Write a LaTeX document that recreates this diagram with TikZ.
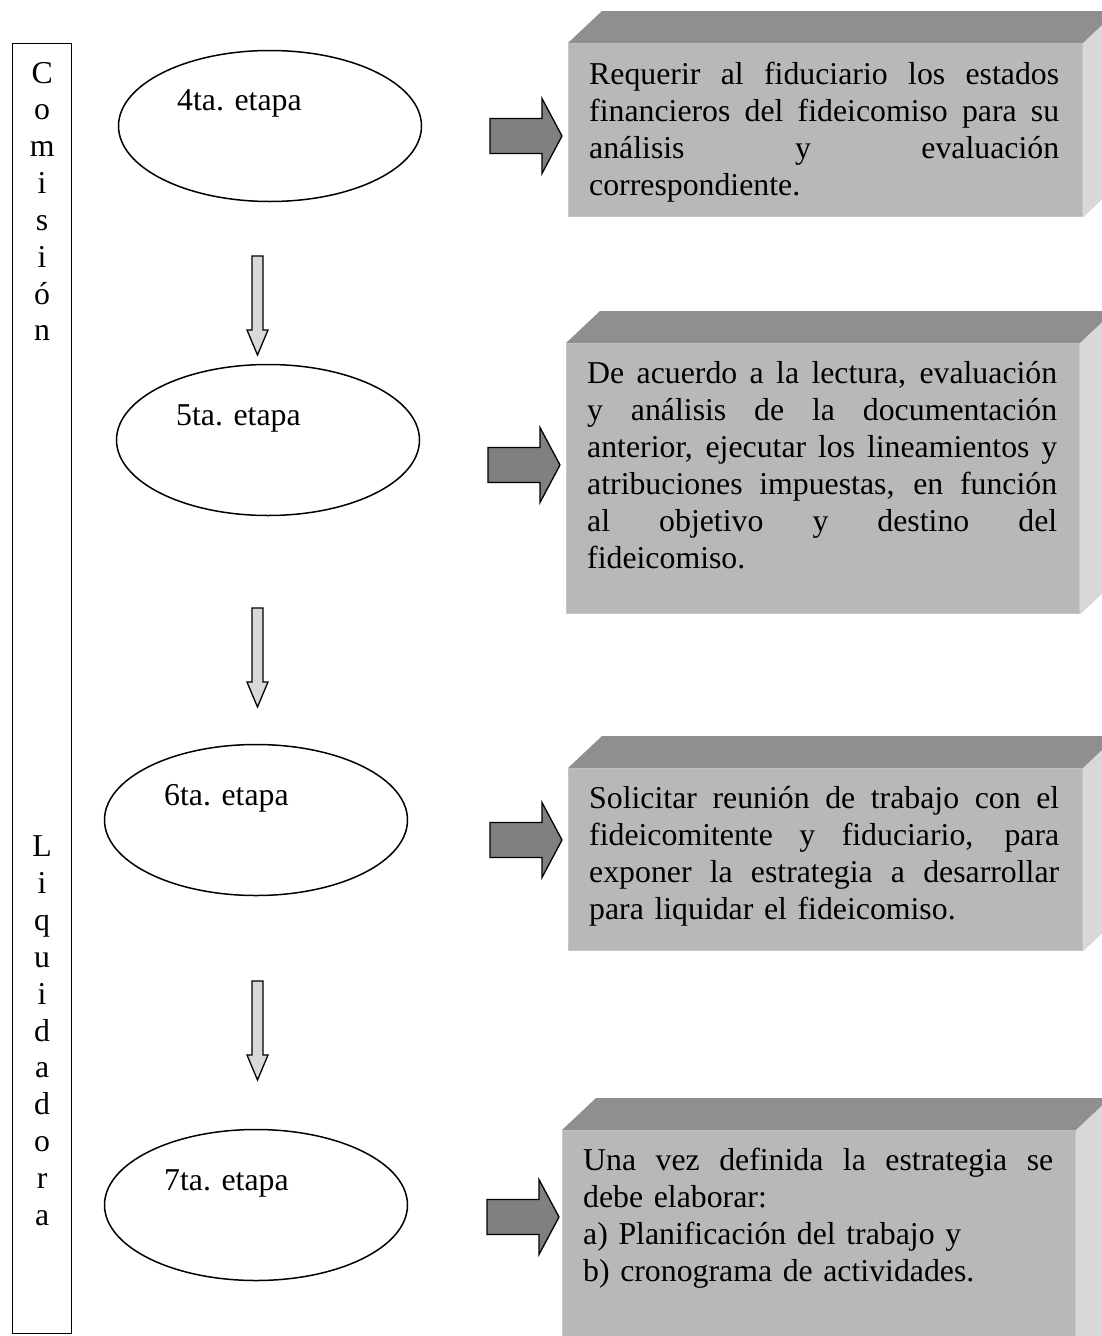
\documentclass[tikz,border=0pt]{standalone}
\usepackage{fontspec}
\setmainfont{Liberation Serif}
\usepackage{xcolor}
\usepackage{tikz}
\usetikzlibrary{shapes.geometric}
\usetikzlibrary{calc}

\definecolor{topgrey}{HTML}{8F8F8F}
\definecolor{frontgrey}{HTML}{B8B8B8}
\definecolor{sidegrey}{HTML}{D8D8D8}
\definecolor{edgegrey}{HTML}{C6C6C6}
\definecolor{darkarrow}{HTML}{808080}
\definecolor{lightarrow}{HTML}{D9D9D9}
\newcommand{\jl}[1]{\makebox[470pt][s]{\spaceskip=7.9pt plus 40pt minus 2pt\relax #1}}

\begin{document}
\begin{tikzpicture}[x=1pt,y=-1pt,
    font=\fontsize{31.8pt}{37pt}\selectfont,
    etapa/.style={draw,ellipse,line width=1.5pt,minimum width=303pt,minimum height=151pt,inner sep=0pt},
    front/.style={fill=frontgrey,draw=edgegrey,line width=1.2pt,anchor=north west,inner sep=0pt},
    boxtext/.style={anchor=base west,text width=470pt,align=left,inner sep=0pt},
    darr/.pic={\draw[line width=1.3pt,fill=lightarrow] (-5.5,0) -- (5.5,0) -- (5.5,74) -- (10.5,74) -- (0,99) -- (-10.5,74) -- (-5.5,74) -- cycle;},
    rarr/.pic={\draw[line width=1.3pt,fill=darkarrow] (0,0) -- (-20,-37.5) -- (-20,-17.5) -- (-72,-17.5) -- (-72,17.5) -- (-20,17.5) -- (-20,37.5) -- cycle;}]
    \useasboundingbox (0,0) rectangle (1102,1336);

    % columna izquierda
    \node[draw,line width=1.3pt,minimum width=59pt,minimum height=1290pt,anchor=north west,inner sep=0pt] (col) at (12,43) {};
    \node[anchor=base,text width=40pt,align=center,inner sep=0pt,font=\fontsize{31.8pt}{36.85pt}\selectfont] (coltext) at ($(col.north)+(0,40)$)
        {C\\o\\m\\i\\s\\i\\ó\\n\\[479pt]L\\i\\q\\u\\i\\d\\a\\d\\o\\r\\a};

    % etapas
    \node[etapa] (e4) at (270,126) {};
    \node[anchor=base west,inner sep=0pt] (t4) at ($(e4.center)+(-93,-16)$) {4ta. etapa};
    \node[etapa] (e5) at (268,440) {};
    \node[anchor=base west,inner sep=0pt] (t5) at ($(e5.center)+(-92,-15)$) {5ta. etapa};
    \node[etapa] (e6) at (256,820) {};
    \node[anchor=base west,inner sep=0pt] (t6) at ($(e6.center)+(-92,-15)$) {6ta. etapa};
    \node[etapa] (e7) at (256,1205) {};
    \node[anchor=base west,inner sep=0pt] (t7) at ($(e7.center)+(-92,-15)$) {7ta. etapa};

    \pic at (257.5,256) {darr};
    \pic at (257.5,608) {darr};
    \pic at (257.5,981) {darr};

    % cajas
    \node[front,minimum width=514pt,minimum height=173pt] (b1) at (568,43) {};
    \node[front,minimum width=513pt,minimum height=270pt] (b2) at (566,343) {};
    \node[front,minimum width=514pt,minimum height=182pt] (b3) at (568,768) {};
    \node[front,minimum width=513pt,minimum height=230pt] (b4) at (562,1130) {};
    \foreach \b in {b1,b2,b3,b4}{
        \fill[topgrey] (\b.north west) -- ++(34,-32) -- ($(\b.north east)+(34,-32)$) -- (\b.north east) -- cycle;
        \fill[sidegrey] (\b.north east) -- ++(34,-32) -- ($(\b.south east)+(34,-32)$) -- (\b.south east) -- cycle;
    }

    \node[boxtext] (x1) at ($(b1.north west)+(21,41)$)
        {\jl{Requerir al fiduciario los estados}\\ \jl{financieros del fideicomiso para su}\\ \jl{análisis y evaluación}\\ correspondiente.};
    \node[boxtext] (x2) at ($(b2.north west)+(21,40)$)
        {\jl{De acuerdo a la lectura, evaluación}\\ \jl{y análisis de la documentación}\\ \jl{anterior, ejecutar los lineamientos y}\\ \jl{atribuciones impuestas, en función}\\ \jl{al objetivo y destino del}\\ fideicomiso.};
    \node[boxtext] (x3) at ($(b3.north west)+(21,40)$)
        {\jl{Solicitar reunión de trabajo con el}\\ \jl{fideicomitente y fiduciario, para}\\ \jl{exponer la estrategia a desarrollar}\\ para liquidar el fideicomiso.};
    \node[boxtext] (x4) at ($(b4.north west)+(21,40)$)
        {\jl{Una vez definida la estrategia se}\\ debe elaborar:\\ a) Planificación del trabajo y\\ b) cronograma de actividades.};

    \pic at (562,136) {rarr};
    \pic at (560,465) {rarr};
    \pic at (562,840) {rarr};
    \pic at (559,1217) {rarr};
\end{tikzpicture}
\end{document}
